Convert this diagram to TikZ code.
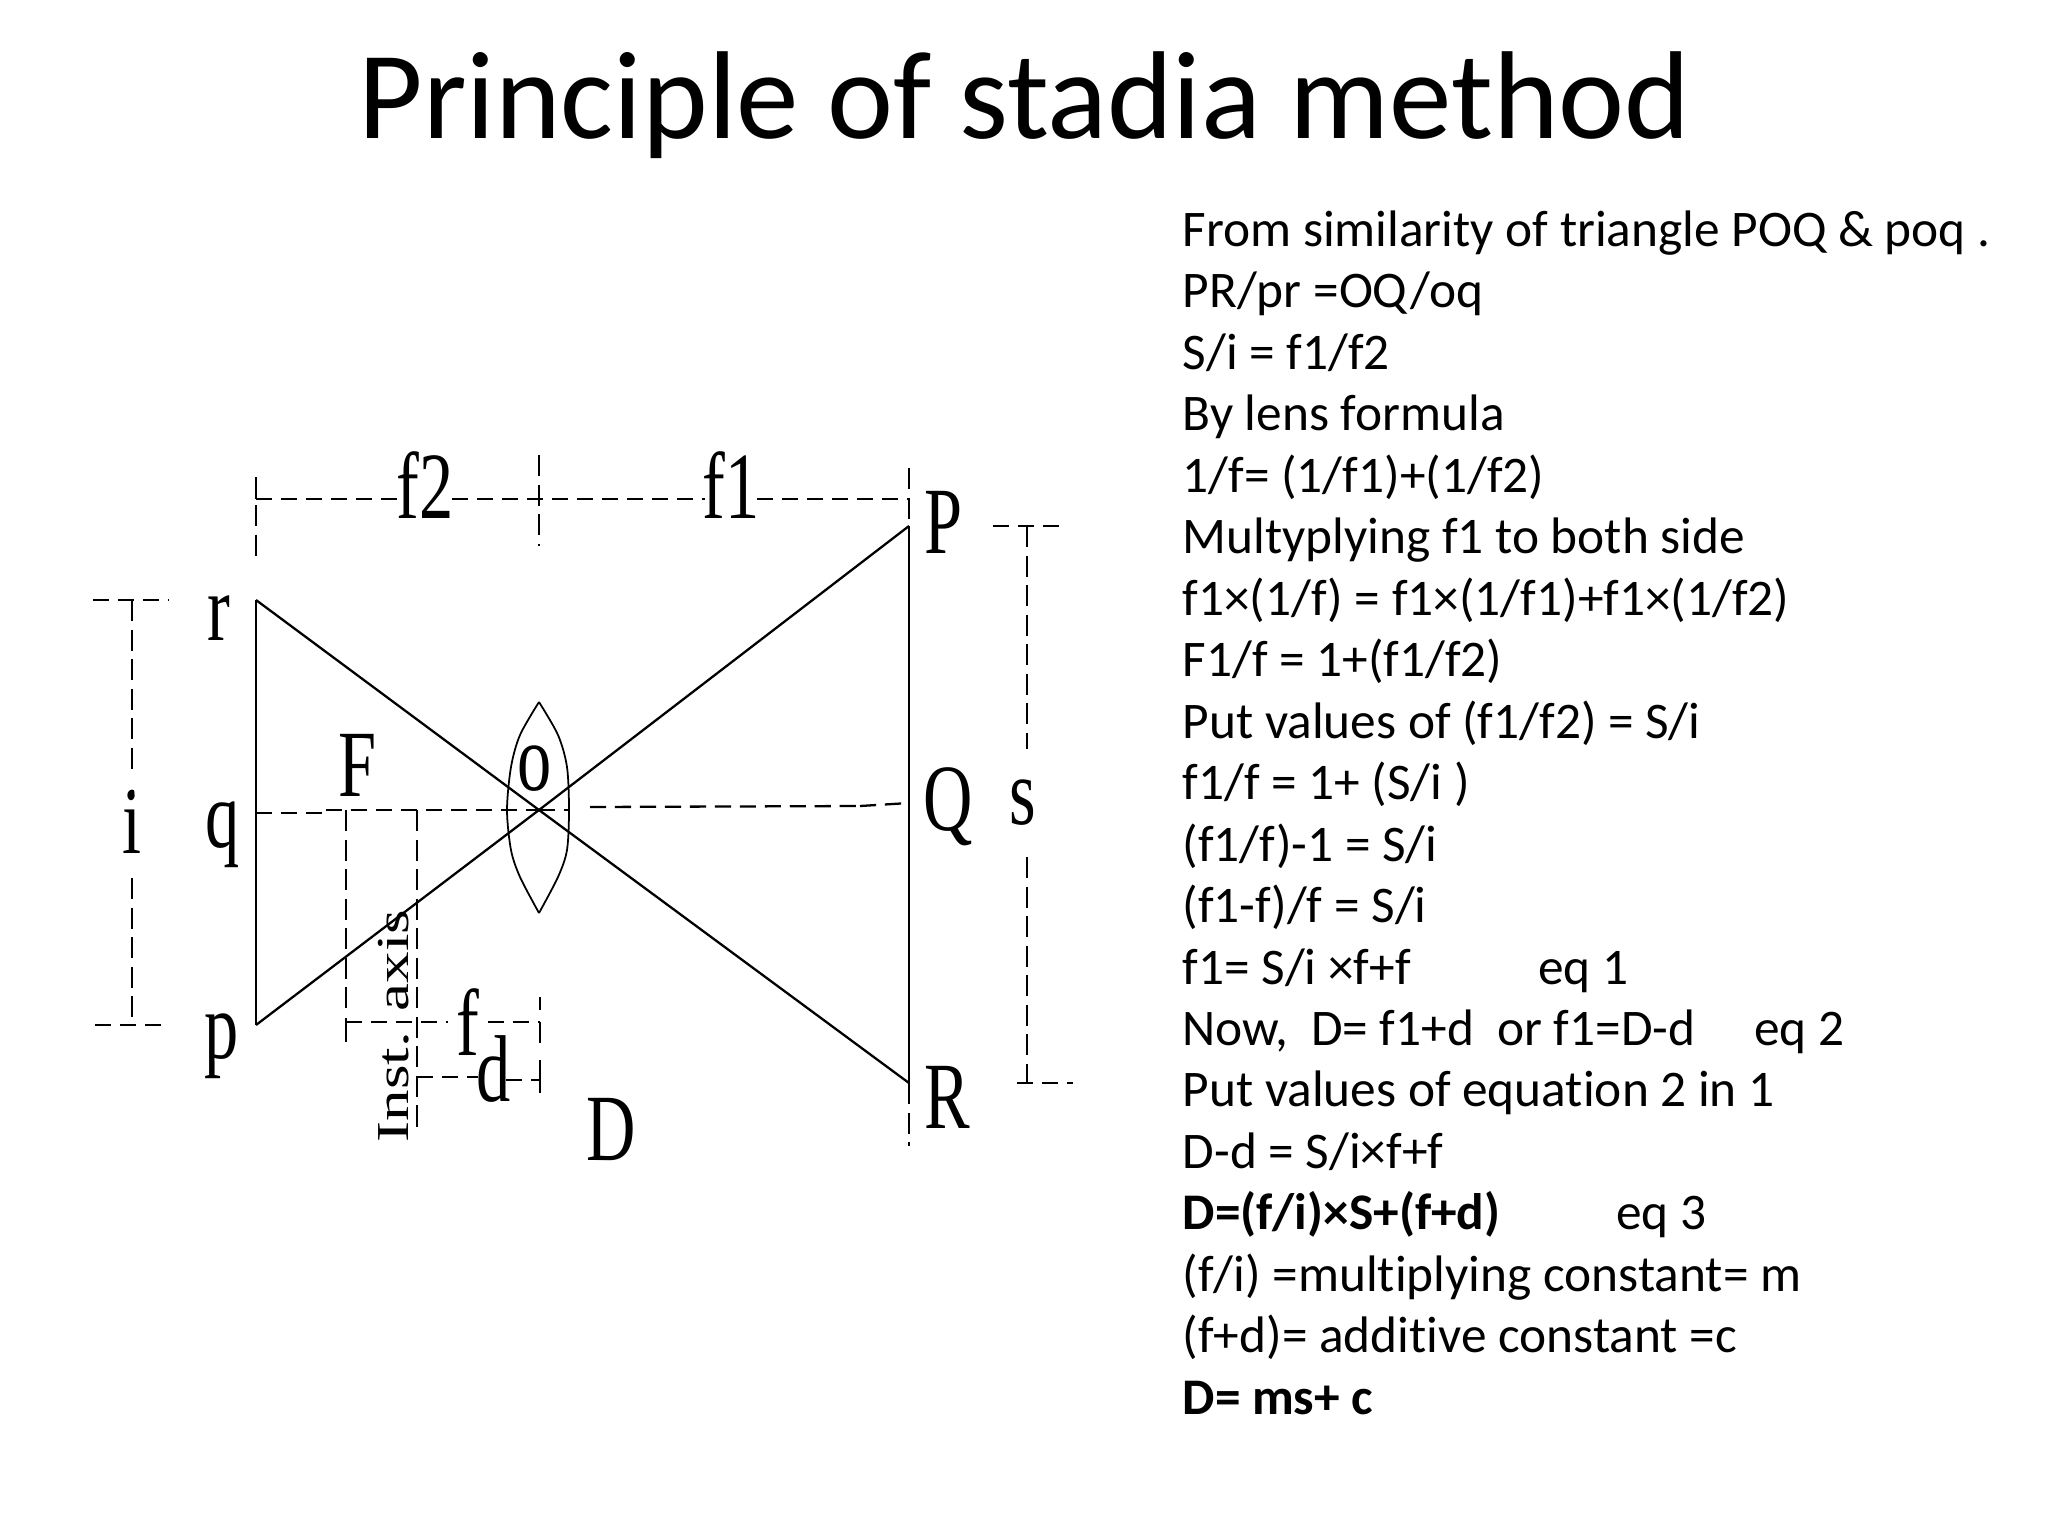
\documentclass[tikz,border=0pt]{standalone}
\usepackage{graphicx}
\usepackage{fontspec}
\setmainfont{Carlito}[Ligatures=CommonOff]
\newfontfamily\serifdiag{Liberation Serif}
\newcommand{\narrowlab}[1]{\scalebox{0.72}[1]{\fontsize{27}{27}\selectfont\serifdiag #1}}
\tikzset{
  solidln/.style={line width=0.8pt,black},
  rayln/.style={line width=0.65pt,black},
  lensln/.style={line width=0.5pt,black},
  dimln/.style={line width=0.65pt,black,dash pattern=on 4.6pt off 2.5pt},
  dimvln/.style={line width=0.6pt,black,dash pattern=on 6pt off 2.4pt},
  tickln/.style={line width=0.6pt,black},
  lab/.style={anchor=base,inner sep=0pt,outer sep=0pt},
}
\begin{document}
\begin{tikzpicture}[x=0.01cm,y=-0.01cm]
\fill[white] (0,0) rectangle (2048,1536);
\useasboundingbox (0,0) rectangle (2048,1536);
% key points
\coordinate (r) at (256,600);
\coordinate (q) at (256,813);
\coordinate (p) at (256,1025);
\coordinate (P) at (909,526);
\coordinate (Qp) at (909,803);
\coordinate (R) at (909,1083);
\coordinate (O) at (539,810);
% title
\node[lab] (title) at (1024.5,138) {\fontsize{35.55}{40}\selectfont Principle of stadia method};
% text block
\node[anchor=north west,inner sep=0pt,align=left,font=\fontsize{14.6}{17.48}\selectfont] (body) at (1182,210) {%
From similarity of triangle POQ \& poq .\\
PR/pr =OQ/oq\\
S/i = f1/f2\\
By lens formula\\
1/f= (1/f1)+(1/f2)\\
Multyplying f1 to both side\\
f1×(1/f) = f1×(1/f1)+f1×(1/f2)\\
F1/f = 1+(f1/f2)\\
Put values of (f1/f2) = S/i\\
f1/f = 1+ (S/i )\\
(f1/f)-1 = S/i\\
(f1-f)/f = S/i\\
f1= S/i ×f+f\hspace{36.2pt}eq 1\\
Now,\ \ D= f1+d\ \ or f1=D-d\hspace{16.7pt}eq 2\\
Put values of equation 2 in 1\\
D-d = S/i×f+f\\
\textbf{D=(f/i)×S+(f+d)}\hspace{33pt}eq 3\\
(f/i) =multiplying constant= m\\
(f+d)= additive constant =c\\
\textbf{D= ms+ c}};
% solid object and image lines
\draw[solidln] (r) -- (p);
\draw[solidln] (P) -- (R);
\draw[rayln] (r) -- (O) -- (R);
\draw[rayln] (p) -- (O) -- (P);
% lens
\draw[lensln] plot[smooth,tension=0.5] coordinates {(539,702) (558,735) (567,767) (569,810) (567,850) (558,877) (539,913)};
\draw[lensln] plot[smooth,tension=0.5] coordinates {(539,702) (520,735) (511,767) (507,810) (511,850) (520,877) (539,913)};
% axis
\coordinate (ax1) at (326,813); \coordinate (ax2) at (326,810);
\draw[dimln] (q) -- (ax1);
\draw[dimln] (ax2) -- (O);
\coordinate (ax3) at (590,807); \coordinate (ax4) at (860,806);
\draw[dimln] (O) -- (570,810);
\draw[dimln] (ax3) -- (ax4);
\draw[dimln] (ax4) -- (Qp);
% f2-f1 dimension
\coordinate (t1) at (256,499); \coordinate (t2) at (909,499);
\draw[dimln] (t1) -- (398,499);
\draw[dimln] (452,499) -- (705,499);
\draw[dimln] (757,499) -- (t2);
\draw[tickln] (256,477) -- (t1);
\draw[dimvln] (256,505) -- (256,562);
\draw[dimvln] (539,455) -- (539,546);
\draw[dimvln] (909,468) -- (P);
\draw[dimvln] (R) -- (909,1146);
% i dimension
\draw[dimln] (93,600) -- (169,600);
\draw[dimvln] (132,600) -- (132,772);
\fill (132,792) circle (2.5);
\draw[dimvln] (132,878) -- (132,1025);
\draw[dimln] (95,1025) -- (165,1025);
% s dimension
\draw[dimln] (993,526) -- (1059,526);
\draw[dimvln] (1027,526) -- (1027,749);
\draw[dimvln] (1027,857) -- (1027,1083);
\draw[dimln] (1017,1083) -- (1073,1083);
% F and instrument axis verticals
\draw[dimvln] (346,810) -- (346,1013);
\draw[tickln] (346,1018) -- (346,1042);
\draw[dimvln] (417,810) -- (417,1133);
% f dimension
\draw[dimln] (346,1022) -- (448,1022);
\draw[dimln] (488,1022) -- (540,1022);
\draw[tickln] (540,997) -- (540,1010);
\draw[tickln] (540,1022) -- (540,1043);
\draw[tickln] (540,1060) -- (540,1093);
\draw[dimln] (417,1077) -- (478,1077);
\draw[dimln] (506,1080) -- (540,1080);
% labels
\node[lab] (lf2) at (425,518) {\narrowlab{f2}};
\node[lab] (lf1) at (731,518) {\narrowlab{f1}};
\node[lab] (lr) at (219,640) {\narrowlab{r}};
\node[lab] (lq) at (223,847) {\narrowlab{q}};
\node[lab] (lp) at (222,1058) {\narrowlab{p}};
\node[lab] (li) at (132,853) {\narrowlab{i}};
\node[lab] (lF) at (358,796) {\narrowlab{F}};
\node[lab] (lo) at (535,790) {\narrowlab{o}};
\node[lab] (lf) at (468,1055) {\narrowlab{f}};
\node[lab] (ld) at (494,1101) {\narrowlab{d}};
\node[lab] (lD) at (611,1160) {\narrowlab{D}};
\node[lab] (lP) at (943,553) {\narrowlab{P}};
\node[lab] (lQ) at (948,830) {\narrowlab{Q}};
\node[lab] (lR) at (947,1128) {\narrowlab{R}};
\node[lab] (ls) at (1023,824) {\narrowlab{s}};
\node[anchor=base,inner sep=0pt,rotate=90] (inst) at (408,1026) {\scalebox{1.38}[1]{\fontsize{13}{13}\selectfont\serifdiag Inst. axis}};
\end{tikzpicture}
\end{document}
